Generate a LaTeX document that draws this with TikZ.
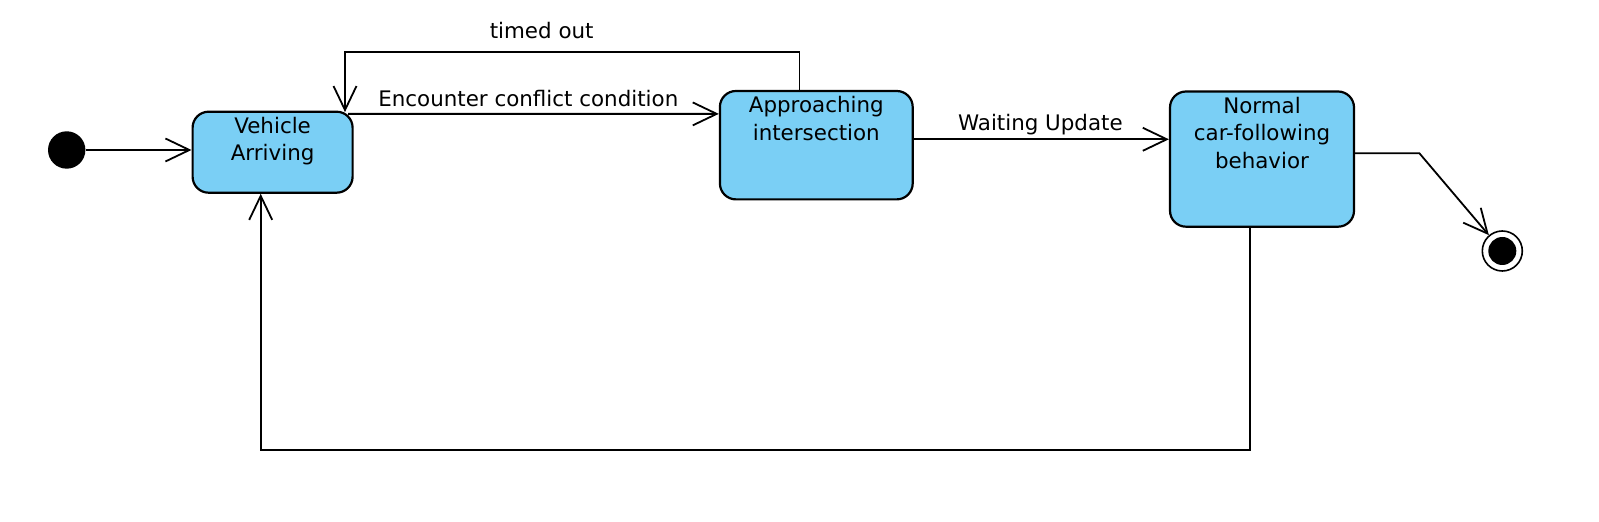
\documentclass[tikz,border=0pt]{standalone}
\usepackage{fontspec}
\setmainfont{DejaVu Sans}
\usetikzlibrary{arrows.meta, calc, positioning}
\definecolor{statefill}{RGB}{122,207,245}

\begin{document}
\begin{tikzpicture}[x=0.5pt,y=-0.5pt,font=\fontsize{10.7}{13.8}\selectfont,
  >={Straight Barb[length=12pt,width=11.5pt]},
  state/.style={draw,line width=1.1pt,fill=statefill,rounded corners=8pt,inner sep=0pt},
  statetext/.style={anchor=north,align=center,inner sep=0pt},
  trans/.style={->,line width=0.9pt},
  lbl/.style={anchor=base,inner sep=0pt}]

\useasboundingbox (0,0) rectangle (1599,522);

% --- Stati iniziale e finale
\node[circle,fill=black,minimum size=18.7pt,inner sep=0pt] (init) at (66.7,150) {};
\node[circle,draw,line width=0.8pt,minimum size=20pt,inner sep=0pt] (final) at (1502.3,251) {};
\node[circle,fill=black,minimum size=14pt,inner sep=0pt] (finaldot) at (final) {};

% --- Stati
\node[state,minimum width=80pt,minimum height=40.5pt] (arriving) at (272.6,152.2) {};
\node[state,minimum width=96.4pt,minimum height=54.2pt] (approach) at (816.3,145.2) {};
\node[state,minimum width=92pt,minimum height=67.6pt] (normal) at (1262,159.1) {};

\node[statetext] (arrivingtxt) at ($(arriving.north)+(0,6)$) {Vehicle\\Arriving};
\node[statetext] (approachtxt) at ($(approach.north)+(0,6)$) {Approaching\\intersection};
\node[statetext] (normaltxt) at ($(normal.north)+(0,6)$) {Normal\\car-following\\behavior};

% --- Transizioni
\draw[trans] (init.east) -- (init.east -| arriving.west);
\draw[trans] ($(arriving.north east)+(-5.5,3.3)$) -- ($(approach.north west)+(0,24)$);
\draw[trans] ($(approach.north west)+(80.7,0)$) -- ++(0,-37.7) -| ($(arriving.north east)+(-8.7,1.5)$);
\draw[trans] ($(approach.east)+(0,-5.9)$) coordinate (wstart) -- (wstart -| normal.west);
\draw[trans] ($(normal.east)+(0,-5.8)$) -- ++(64.3,0) -- (final);
\draw[trans] ($(normal.south)+(-11.7,0)$) -- ++(0,222.6) -| ($(arriving.south)+(-11.9,0)$);

% --- Etichette
\node[lbl] (lbltimed) at (541.7,39) {timed out};
\node[lbl] (lblconflict) at (528.3,106.7) {Encounter conflict condition};
\node[lbl] (lblwaiting) at (1040.4,131) {Waiting Update};

\end{tikzpicture}
\end{document}
